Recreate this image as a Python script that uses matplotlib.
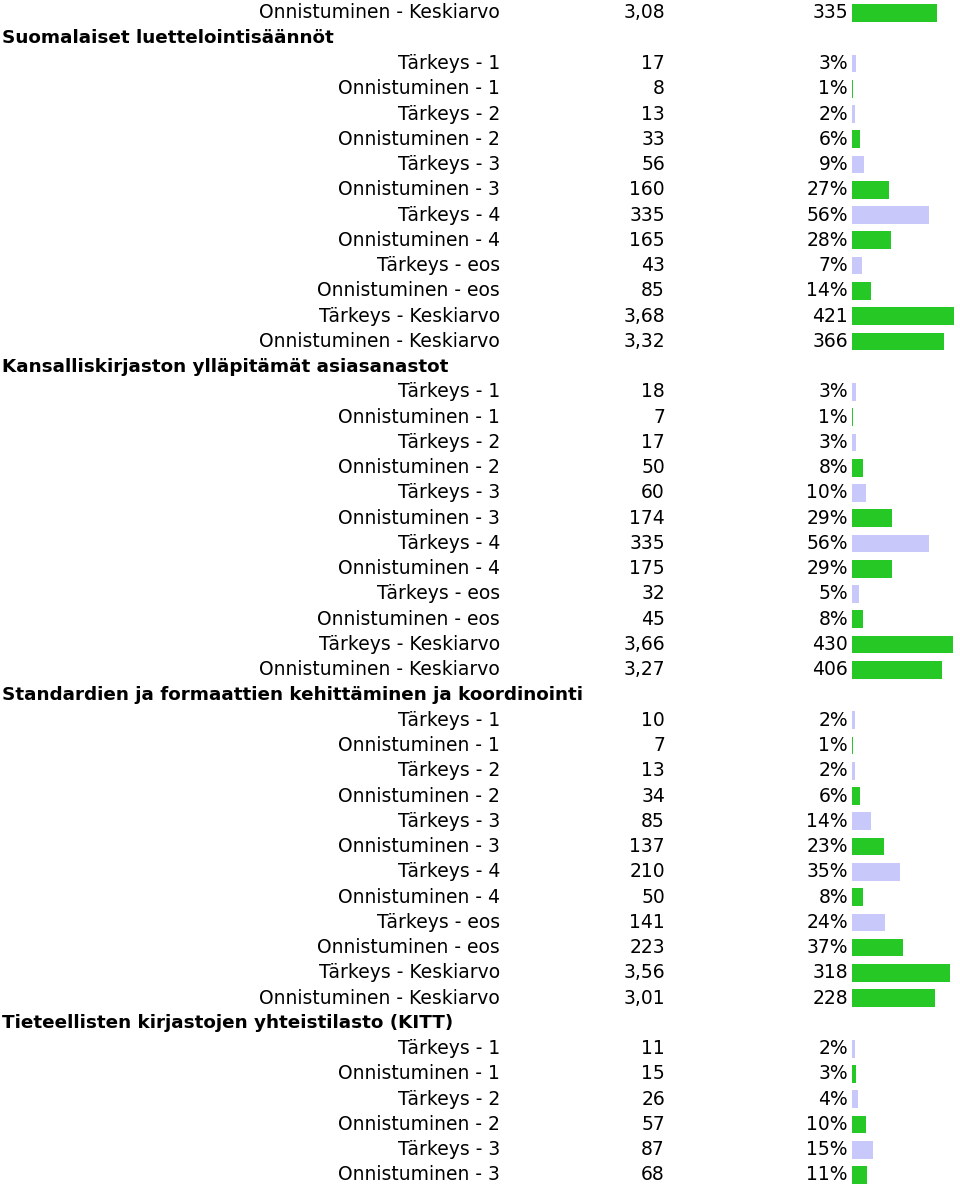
import matplotlib
matplotlib.use("Agg")
import matplotlib.pyplot as plt

# rivien nimet
row_names = ["Tärkeys - 1", "Onnistuminen - 1", "Tärkeys - 2", "Onnistuminen - 2",
             "Tärkeys - 3", "Onnistuminen - 3", "Tärkeys - 4", "Onnistuminen - 4",
             "Tärkeys - eos", "Onnistuminen - eos", "Tärkeys - Keskiarvo",
             "Onnistuminen - Keskiarvo"]

sections = ["Suomalaiset luettelointisäännöt",
            "Kansalliskirjaston ylläpitämät asiasanastot",
            "Standardien ja formaattien kehittäminen ja koordinointi",
            "Tieteellisten kirjastojen yhteistilasto (KITT)"]

# lukumäärät (1..eos) ja keskiarvot
counts = [
    [17, 8, 13, 33, 56, 160, 335, 165, 43, 85],
    [18, 7, 17, 50, 60, 174, 335, 175, 32, 45],
    [10, 7, 13, 34, 85, 137, 210, 50, 141, 223],
    [11, 15, 26, 57, 87, 68],
]
percents = [
    [3, 1, 2, 6, 9, 27, 56, 28, 7, 14],
    [3, 1, 3, 8, 10, 29, 56, 29, 5, 8],
    [2, 1, 2, 6, 14, 23, 35, 8, 24, 37],
    [2, 3, 4, 10, 15, 11],
]
means = [[3.68, 3.32], [3.66, 3.27], [3.56, 3.01], []]
mean_n = [[421, 366], [430, 406], [318, 228], []]

# edellisen osion viimeinen rivi
first_mean = 3.08
first_n = 335

GREEN = "#25c825"
LAV = "#c8c8fa"

# rakennetaan rivit
rows = []  # (tyyppi, nimi, sarake2, sarake3, palkki%, väri)
rows.append(("row", "Onnistuminen - Keskiarvo", f"{first_mean:.2f}".replace(".", ","),
             str(first_n), first_mean / 5 * 100, GREEN))
for s, title in enumerate(sections):
    rows.append(("head", title, "", "", None, None))
    for i, (c, p) in enumerate(zip(counts[s], percents[s])):
        col = LAV if row_names[i].startswith("Tärkeys") else GREEN
        rows.append(("row", row_names[i], str(c), f"{p}%", p, col))
    for j, (m, n) in enumerate(zip(means[s], mean_n[s])):
        rows.append(("row", row_names[10 + j], f"{m:.2f}".replace(".", ","),
                     str(n), m / 5 * 100, GREEN))

W, H = 960, 1188
fig = plt.figure(figsize=(W / 100, H / 100), dpi=100)
pitch = 25.26
y_top = -13 / pitch
y_bot = (H - 13) / pitch

ax = fig.add_axes([0, 0, 1, 1])
ax.set_xlim(0, W)
ax.set_ylim(y_bot, y_top)
ax.axis("off")

bx = fig.add_axes([852 / W, 0, 138 / W, 1])
bx.set_xlim(0, 100)
bx.set_ylim(y_bot, y_top)
bx.axis("off")

fs = 13.5
for k, (kind, name, c2, c3, val, col) in enumerate(rows):
    if kind == "head":
        ax.text(2, k, name, ha="left", va="center", fontsize=13.2, fontweight="bold")
        continue
    ax.text(500, k, name, ha="right", va="center", fontsize=fs)
    ax.text(665, k, c2, ha="right", va="center", fontsize=fs)
    ax.text(848, k, c3, ha="right", va="center", fontsize=fs)
    bx.barh(k, val, height=0.7, color=col, linewidth=0)

fig.savefig("out.png", dpi=100)
